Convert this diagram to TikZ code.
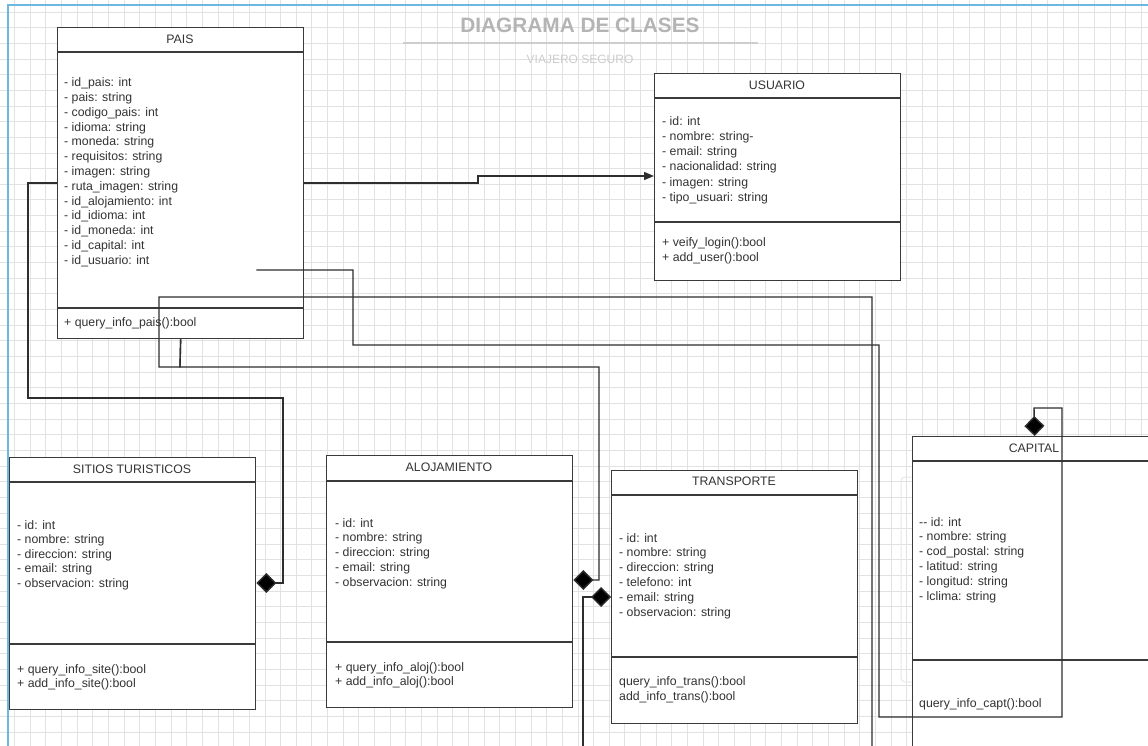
\documentclass[tikz,border=0pt]{standalone}
\usepackage{fontspec}
\setmainfont{Liberation Sans}
\usetikzlibrary{arrows.meta}

\definecolor{boxline}{HTML}{3A3A3A}
\definecolor{wireline}{HTML}{2E2E2E}
\definecolor{textcol}{HTML}{333333}
\definecolor{gridcol}{HTML}{E2E2E2}
\definecolor{framecol}{HTML}{6CB8DE}
\definecolor{headcol}{HTML}{B4B4B4}
\definecolor{subcol}{HTML}{CDCDCD}
\definecolor{ghostcol}{HTML}{E8E8E8}

% one column of class members, one node per line
\newcommand\classmembers[5]{%
  \foreach \t [count=\i] in {#5} {\node[member] (#1\i) at (#2,{#3+(\i-1)*#4}) {\t};}}

\begin{document}
\begin{tikzpicture}[x=1pt,y=-1pt,
  classframe/.style={draw=boxline, line width=1.3pt, fill=white, inner sep=0pt, anchor=north west},
  divider/.style={draw=boxline, line width=1.3pt},
  wire/.style={draw=wireline, line width=1.4pt, line join=miter},
  composition/.style={wire, -{Diamond[length=20pt,width=20pt,fill=black]}},
  navigable/.style={wire, -{Triangle[length=10pt,width=8pt]}},
  ctitle/.style={font=\fontsize{12.3}{14}\selectfont, text=textcol, inner sep=0pt, anchor=base},
  member/.style={font=\fontsize{12.3}{14}\selectfont, text=textcol, inner sep=0pt, anchor=base west},
  gridline/.style={draw=gridcol, line width=0.6pt}
]
\useasboundingbox (0,0) rectangle (1148,746);
\clip (0,0) rectangle (1148,746);
\fill[white] (0,0) rectangle (1148,746);

% background grid
\foreach \k in {-25,...,50} {\draw[gridline] ({390+\k*15.65},0) -- ({390+\k*15.65},746);}
\foreach \k in {-1,...,48} {\draw[gridline] (0,{12+\k*15.65}) -- (1148,{12+\k*15.65});}

% faint shape behind the CAPITAL class
\draw[ghostcol, line width=1pt, rounded corners=4pt] (912,477) -- (901,477) -- (901,682) -- (912,682);

% heading
\node[font=\fontsize{20.8}{24}\bfseries, text=headcol, inner sep=0pt, anchor=base] (heading) at (580,32.5) {DIAGRAMA DE CLASES};
\draw[subcol, line width=1.5pt] (403,43) -- (758,43);
\node[font=\fontsize{12}{14}\selectfont, text=subcol, inner sep=0pt, anchor=base] (subheading) at (580,63.5) {VIAJERO SEGURO};

% ---------- classes ----------
% PAIS
\node[classframe, minimum width=246pt, minimum height=311pt] (pais) at (57,27) {};
\draw[divider] ([yshift=-25pt]pais.north west) -- ([yshift=-25pt]pais.north east);
\draw[divider] ([yshift=-281pt]pais.north west) -- ([yshift=-281pt]pais.north east);
\node[ctitle] (pais-t) at (180,43.5) {PAIS};
\classmembers{pais-a}{64}{87}{14.75}{- id\_pais: int,- pais: string,- codigo\_pais: int,- idioma: string,- moneda: string,- requisitos: string,- imagen: string,- ruta\_imagen: string,- id\_alojamiento: int,- id\_idioma: int,- id\_moneda: int,- id\_capital: int,- id\_usuario: int}
\classmembers{pais-m}{64}{326}{15}{+ query\_info\_pais():bool}

% USUARIO
\node[classframe, minimum width=246pt, minimum height=207pt] (usuario) at (654,73) {};
\draw[divider] ([yshift=-25pt]usuario.north west) -- ([yshift=-25pt]usuario.north east);
\draw[divider] ([yshift=-149pt]usuario.north west) -- ([yshift=-149pt]usuario.north east);
\node[ctitle] (usuario-t) at (777,89.5) {USUARIO};
\classmembers{usuario-a}{662}{126}{15}{- id: int,- nombre: string-,- email: string,- nacionalidad: string,- imagen: string,- tipo\_usuari: string}
\classmembers{usuario-m}{662}{246}{15}{+ veify\_login():bool,+ add\_user():bool}

% SITIOS TURISTICOS
\node[classframe, minimum width=246pt, minimum height=252pt] (sitios) at (9,457) {};
\draw[divider] ([yshift=-25pt]sitios.north west) -- ([yshift=-25pt]sitios.north east);
\draw[divider] ([yshift=-187pt]sitios.north west) -- ([yshift=-187pt]sitios.north east);
\node[ctitle] (sitios-t) at (132,473.5) {SITIOS TURISTICOS};
\classmembers{sitios-a}{17}{529}{14.5}{- id: int,- nombre: string,- direccion: string,- email: string,- observacion: string}
\classmembers{sitios-m}{17}{673}{14}{+ query\_info\_site():bool,+ add\_info\_site():bool}

% ALOJAMIENTO
\node[classframe, minimum width=246pt, minimum height=252pt] (alojamiento) at (326,455) {};
\draw[divider] ([yshift=-26pt]alojamiento.north west) -- ([yshift=-26pt]alojamiento.north east);
\draw[divider] ([yshift=-187pt]alojamiento.north west) -- ([yshift=-187pt]alojamiento.north east);
\node[ctitle] (alojamiento-t) at (449,471.5) {ALOJAMIENTO};
\classmembers{alojamiento-a}{335}{527}{14.75}{- id: int,- nombre: string,- direccion: string,- email: string,- observacion: string}
\classmembers{alojamiento-m}{335}{671}{14}{+ query\_info\_aloj():bool,+ add\_info\_aloj():bool}

% TRANSPORTE
\node[classframe, minimum width=246pt, minimum height=253pt] (transporte) at (611,470) {};
\draw[divider] ([yshift=-25pt]transporte.north west) -- ([yshift=-25pt]transporte.north east);
\draw[divider] ([yshift=-187pt]transporte.north west) -- ([yshift=-187pt]transporte.north east);
\node[ctitle] (transporte-t) at (734,485.5) {TRANSPORTE};
\classmembers{transporte-a}{619}{542}{14.8}{- id: int,- nombre: string,- direccion: string,- telefono: int,- email: string,- observacion: string}
\classmembers{transporte-m}{619}{685}{15}{query\_info\_trans():bool,add\_info\_trans():bool}

% CAPITAL
\node[classframe, minimum width=244pt, minimum height=340pt] (capital) at (912,436) {};
\draw[divider] ([yshift=-25pt]capital.north west) -- ([yshift=-25pt]capital.north east);
\draw[divider] ([yshift=-224pt]capital.north west) -- ([yshift=-224pt]capital.north east);
\node[ctitle] (capital-t) at (1034,452.5) {CAPITAL};
\classmembers{capital-a}{919}{526}{14.8}{-{}- id: int,- nombre: string,- cod\_postal: string,- latitud: string,- longitud: string,- lclima: string}
\classmembers{capital-m}{919}{707}{15}{query\_info\_capt():bool}

% ---------- relations ----------
\coordinate (belowB) at (872,760);
\coordinate (belowC) at (583,760);

% PAIS -> USUARIO
\draw[navigable] ([yshift=-156pt]pais.north east) -- (478,183) -- (478,176) -- ([yshift=-103pt]usuario.north west);
% PAIS <>- SITIOS TURISTICOS
\draw[composition] ([yshift=-156pt]pais.north west) -- (28,183) -- (28,398) -- (283,398) -- (283,583) -- ([yshift=-126pt]sitios.north east);
% PAIS <>- CAPITAL
\draw[composition] ([xshift=-48pt,yshift=-243pt]pais.north east) -- (353,270) -- (353,345) -- (879,345) -- (879,717) -- (1062,717) -- (1062,408) -- (1034,408) -- (capital.north);
% PAIS <>- ALOJAMIENTO
\draw[composition] (pais.south) -- (180,367) -- (599,367) -- (599,580) -- ([yshift=-125pt]alojamiento.north east);
% PAIS -> off-page class
\draw[wire] (pais.south) -- (180,367) -- (159,367) -- (159,297) -- (872,297) -- (belowB);
% TRANSPORTE composition from below
\draw[composition] (belowC) -- (583,597) -- ([yshift=-127pt]transporte.north west);

% page frame
\draw[framecol, line width=1.6pt] (8,760) -- (8,5) -- (1160,5);
\end{tikzpicture}
\end{document}
